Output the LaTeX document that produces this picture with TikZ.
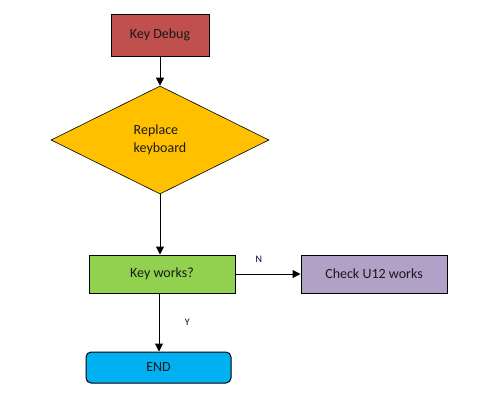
\documentclass[tikz,border=0pt]{standalone}
\usepackage{fontspec}
\setmainfont{Carlito}
\usetikzlibrary{shapes.geometric,arrows.meta}
\definecolor{cred}{HTML}{C0504D}
\definecolor{cyel}{HTML}{FFC000}
\definecolor{cgrn}{HTML}{92D050}
\definecolor{cpur}{HTML}{B2A1C7}
\definecolor{ccya}{HTML}{00B0F0}
\begin{document}
\begin{tikzpicture}[x=1pt,y=-1pt,
  box/.style={draw=black,line width=1pt,rectangle,inner sep=0pt,text=black!90,font=\fontsize{14}{16}\selectfont},
  lab/.style={font=\fontsize{10}{11}\selectfont,text=black!85!blue},
  conn/.style={draw=black,line width=1pt,-{Triangle[length=8pt,width=8pt]}}]
\useasboundingbox[fill=white] (0,0) rectangle (480,400);
\node[box,fill=cred,minimum width=98pt,minimum height=42pt] (debug) at (160,35) {Key Debug};
\node[diamond,draw=black,line width=0.6pt,fill=cyel,minimum width=218pt,minimum height=108pt,inner sep=0pt,aspect=2,text=black!90,font=\fontsize{14}{18}\selectfont,align=left] (repl) at (160,140) {Replace\\keyboard};
\node[box,fill=cgrn,minimum width=146pt,minimum height=38pt] (works) at (162,274) {Key works?};
\node[box,fill=cpur,minimum width=146pt,minimum height=38pt] (check) at (374,274) {Check U12 works};
\node[box,fill=ccya,rounded corners=5pt,minimum width=145pt,minimum height=31pt] (end) at (158.5,367.5) {END};
\draw[conn] (debug.south) -- (repl.north);
\draw[conn] (repl.south) -- (repl.south |- works.north);
\draw[conn] (works.east) -- (check.west) node[lab,pos=0.36,above=8pt] (n) {N};
\coordinate (wb) at (159,293);
\draw[conn] (wb) -- (wb |- end.north) node[lab,pos=0.5,right=22pt] (y) {Y};
\end{tikzpicture}
\end{document}
